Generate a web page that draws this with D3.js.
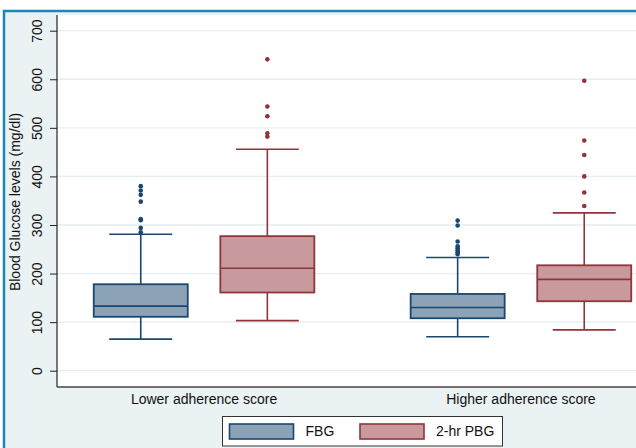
<!DOCTYPE html>
<html>
<head>
<meta charset="utf-8">
<script src="https://cdn.jsdelivr.net/npm/d3@7"></script>
<style>
  body { margin: 0; background: #fff; }
  text { font-family: "Liberation Sans", Arial, sans-serif; fill: #111; }
</style>
</head>
<body>
<div id="chart"></div>
<script>
// Blood glucose by adherence score, box plots (Stata style)

var groups = ["Lower adherence score", "Higher adherence score"];
var series = ["FBG", "2-hr PBG"];
var yTicks = [0, 100, 200, 300, 400, 500, 600, 700];

// per series, per group
var whiskerLo = [[65, 70], [103, 84]];
var q1 = [[111, 108], [161, 143]];
var median = [[133, 130], [211, 188]];
var q3 = [[178, 158], [277, 217]];
var whiskerHi = [[281, 233], [456, 325]];
var outliers = [
  [[285, 294, 310, 312, 348, 362, 371, 380], [240, 244, 248, 252, 256, 266, 299, 309]],
  [[482, 489, 524, 544, 641], [339, 367, 400, 444, 474, 597]]
];

var strokeCol = ["#1a476f", "#90353b"];
var fillCol = ["#8ca3b7", "#c89a9d"];

var svgWidth = 636, svgHeight = 448;
var plot = { left: 57, top: 15, bottom: 387, right: 668 };

var svg = d3.select("#chart").append("svg")
  .attr("width", svgWidth)
  .attr("height", svgHeight);

// outer graph region + frame
svg.append("rect")
  .attr("x", 4).attr("y", 11)
  .attr("width", 700).attr("height", 500)
  .attr("fill", "#eaf2f3")
  .attr("stroke", "#1a87b4")
  .attr("stroke-width", 2.5);

svg.append("rect")
  .attr("x", plot.left).attr("y", plot.top)
  .attr("width", plot.right - plot.left)
  .attr("height", plot.bottom - plot.top)
  .attr("fill", "#fff");

var y = d3.scaleLinear().domain([0, 700]).range([370.7, 30.7]);
var x0 = d3.scalePoint().domain(groups).range([plot.left, plot.right]).padding(0.464);
var x1 = d3.scalePoint().domain(series).range([-63.3, 63.3]);
var boxW = 94, capW = 63;

// gridlines
svg.append("g").selectAll("line")
  .data(yTicks).join("line")
  .attr("x1", plot.left).attr("x2", plot.right)
  .attr("y1", d => y(d)).attr("y2", d => y(d))
  .attr("stroke", "#e4eef0").attr("stroke-width", 1.3);

// y axis
var yAxis = svg.append("g")
  .attr("transform", "translate(" + plot.left + ",0)")
  .call(d3.axisLeft(y).tickValues(yTicks).tickSize(7).tickPadding(0).tickFormat(d3.format("d")));
yAxis.select(".domain").remove();
yAxis.selectAll(".tick line").attr("stroke", "#222");
yAxis.selectAll(".tick text")
  .attr("x", null).attr("dy", null)
  .attr("text-anchor", "middle")
  .attr("transform", "translate(-15.5,0) rotate(-90)")
  .style("font-size", "14px")
  .style("font-family", "'Liberation Sans', Arial, sans-serif")
  .attr("fill", "#111");

svg.append("line")
  .attr("x1", plot.left).attr("x2", plot.left)
  .attr("y1", plot.top).attr("y2", plot.bottom)
  .attr("stroke", "#222").attr("stroke-width", 1.2);
svg.append("line")
  .attr("x1", plot.left).attr("x2", plot.right)
  .attr("y1", plot.bottom).attr("y2", plot.bottom)
  .attr("stroke", "#444").attr("stroke-width", 1.5);

svg.append("text")
  .attr("transform", "translate(20,202) rotate(-90)")
  .attr("text-anchor", "middle")
  .style("font-size", "14px")
  .text("Blood Glucose levels (mg/dl)");

// category labels
svg.append("g").selectAll("text")
  .data(groups).join("text")
  .attr("x", d => x0(d)).attr("y", 404)
  .attr("text-anchor", "middle")
  .style("font-size", "14px")
  .text(d => d);

// boxes
series.forEach(function(s, si) {
  groups.forEach(function(g, gi) {
    var cx = x0(g) + x1(s);
    var b = svg.append("g");
    // whiskers
    b.append("line")
      .attr("x1", cx).attr("x2", cx)
      .attr("y1", y(whiskerHi[si][gi])).attr("y2", y(q3[si][gi]))
      .attr("stroke", strokeCol[si]).attr("stroke-width", 1.6);
    b.append("line")
      .attr("x1", cx).attr("x2", cx)
      .attr("y1", y(q1[si][gi])).attr("y2", y(whiskerLo[si][gi]))
      .attr("stroke", strokeCol[si]).attr("stroke-width", 1.6);
    [whiskerHi[si][gi], whiskerLo[si][gi]].forEach(function(v) {
      b.append("line")
        .attr("x1", cx - capW / 2).attr("x2", cx + capW / 2)
        .attr("y1", y(v)).attr("y2", y(v))
        .attr("stroke", strokeCol[si]).attr("stroke-width", 1.6);
    });
    b.append("rect")
      .attr("x", cx - boxW / 2).attr("width", boxW)
      .attr("y", y(q3[si][gi]))
      .attr("height", y(q1[si][gi]) - y(q3[si][gi]))
      .attr("fill", fillCol[si])
      .attr("stroke", strokeCol[si]).attr("stroke-width", 1.8);
    b.append("line")
      .attr("x1", cx - boxW / 2).attr("x2", cx + boxW / 2)
      .attr("y1", y(median[si][gi])).attr("y2", y(median[si][gi]))
      .attr("stroke", strokeCol[si]).attr("stroke-width", 1.6);
    b.selectAll("circle")
      .data(outliers[si][gi]).join("circle")
      .attr("cx", cx).attr("cy", d => y(d))
      .attr("r", 2.3)
      .attr("fill", strokeCol[si]);
  });
});

// legend
var lg = svg.append("g");
lg.append("rect")
  .attr("x", 222.5).attr("y", 416.5)
  .attr("width", 280).attr("height", 29.5)
  .attr("fill", "#fff").attr("stroke", "#333").attr("stroke-width", 1);
var legX = [229.5, 360];
series.forEach(function(s, si) {
  lg.append("rect")
    .attr("x", legX[si]).attr("y", 424)
    .attr("width", 64).attr("height", 15)
    .attr("fill", fillCol[si])
    .attr("stroke", strokeCol[si]).attr("stroke-width", 1.6);
  lg.append("text")
    .attr("x", legX[si] + 76).attr("y", 435.5)
    .style("font-size", "14px")
    .text(s);
});
</script>
</body>
</html>
